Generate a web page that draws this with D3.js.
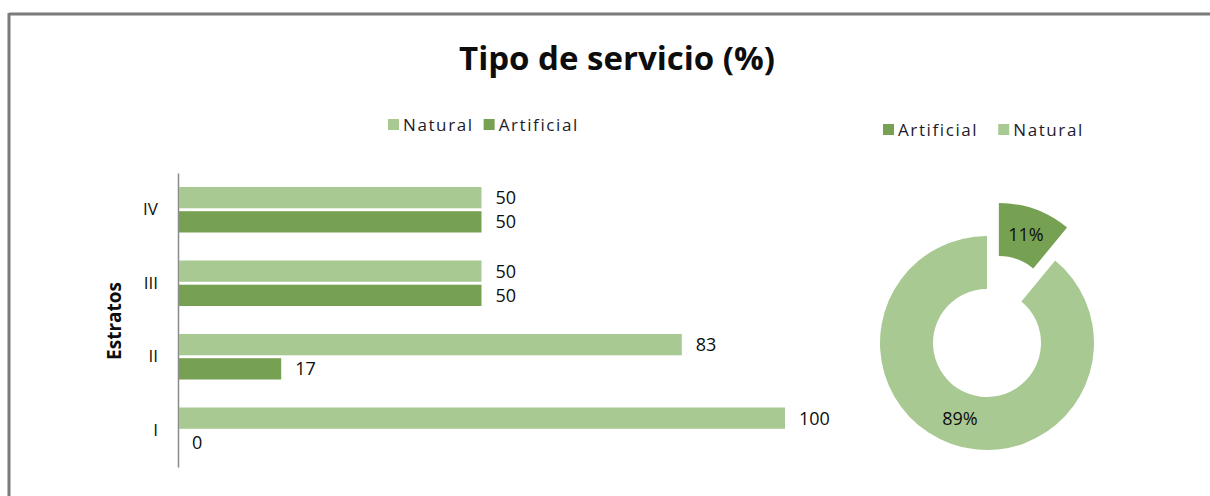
<!DOCTYPE html>
<html>
<head>
<meta charset="utf-8">
<script src="https://cdn.jsdelivr.net/npm/d3@7"></script>
<style>
  body { margin: 0; background: #fff; }
  svg { display: block; font-family: "Open Sans", sans-serif; }
</style>
</head>
<body>
<div id="chart"></div>
<script>
// data
var strata = ['IV', 'III', 'II', 'I'];
var natural = [50, 50, 83, 100];
var artificial = [50, 50, 17, 0];
var seriesNames = ['Natural', 'Artificial'];
var donutNames = ['Artificial', 'Natural'];
var donutValues = [11, 89];

var colors = { Natural: '#a9c993', Artificial: '#77a152' };

var width = 1210, height = 496;

var svg = d3.select('#chart')
    .append('svg')
    .attr('width', width)
    .attr('height', height);

// frame
svg.append('line')
    .attr('x1', 9).attr('x2', width).attr('y1', 14).attr('y2', 14)
    .attr('stroke', '#7b7b7b').attr('stroke-width', 3);
svg.append('line')
    .attr('x1', 9).attr('x2', 9).attr('y1', 13).attr('y2', height)
    .attr('stroke', '#7b7b7b').attr('stroke-width', 3);

// title
svg.append('text')
    .attr('x', 617)
    .attr('y', 70)
    .attr('text-anchor', 'middle')
    .attr('font-size', 33)
    .attr('font-weight', 'bold')
    .attr('fill', '#0d0d0d')
    .text('Tipo de servicio (%)');

// ---- bar chart ----
var rows = strata.map((s, i) => ({ name: s, Natural: natural[i], Artificial: artificial[i] }));

var x = d3.scaleLinear().domain([0, 100]).range([178, 785]);
var y0 = d3.scaleBand().domain(strata).range([173, 467]);
var y1 = d3.scaleBand().domain(seriesNames).range([14, y0.bandwidth() - 14]).paddingInner(0.12);

var yAxis = d3.axisLeft(y0).tickSize(0).tickPadding(20);
var gy = svg.append('g')
    .attr('transform', 'translate(178,0)')
    .call(yAxis);
gy.select('.domain').attr('stroke', '#8a8a8a').attr('stroke-width', 1.5);
gy.selectAll('text')
    .attr('font-size', 17)
    .attr('fill', '#111')
    .attr('font-family', '"Open Sans", sans-serif');

svg.append('text')
    .attr('transform', 'translate(121,321) rotate(-90)')
    .attr('text-anchor', 'middle')
    .attr('font-size', 19)
    .attr('font-weight', 'bold')
    .attr('fill', '#0d0d0d')
    .text('Estratos');

var groups = svg.selectAll('.stratum')
    .data(rows)
    .enter()
    .append('g')
    .attr('class', 'stratum')
    .attr('transform', d => `translate(0,${y0(d.name)})`);

seriesNames.forEach(key => {
    groups.append('rect')
        .attr('x', x(0) + 1)
        .attr('y', y1(key))
        .attr('width', d => Math.max(0, x(d[key]) - x(0) - 1))
        .attr('height', y1.bandwidth())
        .attr('fill', colors[key]);

    groups.append('text')
        .attr('x', d => x(d[key]) + 14)
        .attr('y', y1(key) + y1.bandwidth() / 2)
        .attr('dy', '0.36em')
        .attr('font-size', 18)
        .attr('fill', '#0d0d0d')
        .text(d => d[key]);
});

// bar legend
var legend1 = svg.append('g').attr('transform', 'translate(388,125)');
var lx = 0;
seriesNames.forEach(key => {
    var g = legend1.append('g').attr('transform', `translate(${lx},0)`);
    g.append('rect').attr('x', 0).attr('y', -6).attr('width', 11).attr('height', 11).attr('fill', colors[key]);
    var t = g.append('text').attr('x', 15).attr('dy', '0.35em')
        .attr('font-size', 17).attr('letter-spacing', 1.6).attr('fill', '#1c1c2c').text(key);
    lx += 15 + t.node().getComputedTextLength() + 10;
});

// ---- donut ----
var cx = 987, cy = 343, rOut = 107, rIn = 54, explode = 35;
var pie = d3.pie().sort(null).value(d => d.value);
var arc = d3.arc().innerRadius(rIn).outerRadius(rOut);
var labelArc = d3.arc().innerRadius(80).outerRadius(80);
var slices = pie(donutNames.map((n, i) => ({ name: n, value: donutValues[i] })));

var donut = svg.append('g').attr('transform', `translate(${cx},${cy})`);
var sg = donut.selectAll('.slice')
    .data(slices)
    .enter()
    .append('g')
    .attr('class', 'slice')
    .attr('transform', d => {
        if (d.data.name !== 'Artificial') return null;
        var a = (d.startAngle + d.endAngle) / 2;
        return `translate(${Math.sin(a) * explode},${-Math.cos(a) * explode})`;
    });
sg.append('path')
    .attr('d', arc)
    .attr('fill', d => colors[d.data.name]);
sg.append('text')
    .attr('transform', d => `translate(${labelArc.centroid(d)})`)
    .attr('text-anchor', 'middle')
    .attr('dy', '0.36em')
    .attr('font-size', 18)
    .attr('fill', '#0d0d0d')
    .text(d => d.data.value + '%');

// donut legend
var legend2 = svg.append('g').attr('transform', 'translate(883,130)');
lx = 0;
donutNames.forEach(key => {
    var g = legend2.append('g').attr('transform', `translate(${lx},0)`);
    g.append('rect').attr('x', 0).attr('y', -6).attr('width', 11).attr('height', 11).attr('fill', colors[key]);
    var t = g.append('text').attr('x', 15).attr('dy', '0.35em')
        .attr('font-size', 17).attr('letter-spacing', 1.6).attr('fill', '#1c1c2c').text(key);
    lx += 15 + t.node().getComputedTextLength() + 20;
});
</script>
</body>
</html>
